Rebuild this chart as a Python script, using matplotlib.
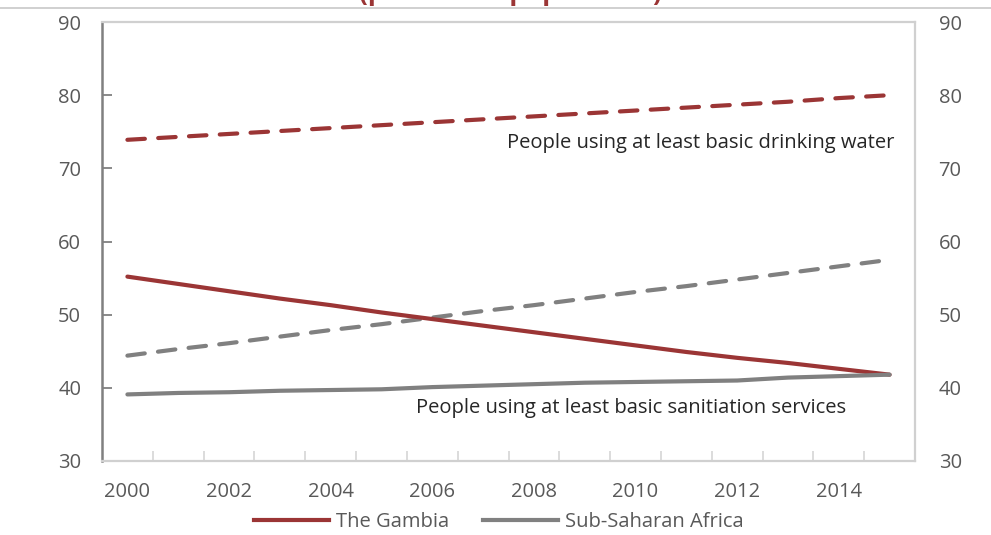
"""
Access to basic drinking water and sanitation, The Gambia vs Sub-Saharan Africa.
"""

import matplotlib.pyplot as plt
from matplotlib.lines import Line2D
import numpy as np

years = np.arange(2000, 2016)
year_labels = ["2000", "2002", "2004", "2006", "2008", "2010", "2012", "2014"]

gambia_water = [73.9, 74.3, 74.7, 75.1, 75.5, 75.9, 76.3, 76.7,
                77.1, 77.5, 77.9, 78.3, 78.7, 79.1, 79.6, 80.0]
ssa_water = [44.4, 45.3, 46.1, 47.0, 47.9, 48.7, 49.6, 50.5,
             51.3, 52.2, 53.1, 53.9, 54.8, 55.7, 56.6, 57.5]
gambia_sanitation = [55.2, 54.2, 53.2, 52.2, 51.3, 50.3, 49.4, 48.5,
                     47.6, 46.7, 45.8, 44.9, 44.1, 43.4, 42.6, 41.8]
ssa_sanitation = [39.1, 39.3, 39.4, 39.6, 39.7, 39.8, 40.1, 40.3,
                  40.5, 40.7, 40.8, 40.9, 41.0, 41.4, 41.6, 41.8]

RED = "#9b3535"
GREY = "#808080"
TEXT = "#595959"
FS = 14.5

plt.rcParams["font.family"] = ["Open Sans", "DejaVu Sans"]


def main() -> None:
    fig = plt.figure(figsize=(9.91, 5.35), dpi=100)
    ax = fig.add_axes([102 / 991, 74 / 535, 813 / 991, 439 / 535])

    lw = 3.0
    dash = (4.2, 3.2)
    ax.plot(years, gambia_water, color=RED, lw=lw, dashes=dash,
            dash_capstyle="round")
    ax.plot(years, ssa_water, color=GREY, lw=lw, dashes=dash,
            dash_capstyle="round")
    ax.plot(years, gambia_sanitation, color=RED, lw=lw,
            solid_capstyle="round")
    ax.plot(years, ssa_sanitation, color=GREY, lw=lw,
            solid_capstyle="round")

    ax.text(2015.1, 73.5, "People using at least basic drinking water",
            ha="right", va="center", fontsize=FS, color="#262626")
    ax.text(2014.15, 37.3, "People using at least basic sanitiation services",
            ha="right", va="center", fontsize=FS, color="#262626")

    ax.set_xlim(1999.5, 2015.5)
    ax.set_ylim(30, 90)
    ax.set_yticks(range(30, 91, 10))
    ax.set_xticks(np.arange(2000.5, 2015.5, 1))
    ax.set_xticklabels([])
    ax.set_xticks(np.arange(2000, 2015, 2), minor=True)
    ax.set_xticklabels(year_labels, minor=True)
    ax.tick_params(axis="x", which="major", direction="in", length=7,
                   color="#d9d9d9", width=1.3)
    ax.tick_params(axis="x", which="minor", length=0, pad=15,
                   labelsize=FS, labelcolor=TEXT)
    ax.tick_params(axis="y", direction="in", length=7, color=GREY, width=1.3,
                   labelsize=FS, labelcolor=TEXT, pad=15)

    ax.spines["left"].set_color(GREY)
    ax.spines["left"].set_linewidth(1.8)
    for side in ("top", "right", "bottom"):
        ax.spines[side].set_color("#d0d0d0")
        ax.spines[side].set_linewidth(1.6)

    right = ax.twinx()
    right.set_ylim(30, 90)
    right.set_yticks(range(30, 91, 10))
    right.tick_params(axis="y", length=0, labelsize=FS, labelcolor=TEXT,
                      pad=17)
    for spine in right.spines.values():
        spine.set_visible(False)

    handles = [Line2D([], [], color=RED, lw=lw),
               Line2D([], [], color=GREY, lw=lw)]
    fig.legend(handles, ["The Gambia", "Sub-Saharan Africa"],
               loc="center", bbox_to_anchor=(499 / 991, 1 - 522 / 535),
               ncol=2, frameon=False, fontsize=FS, labelcolor=TEXT,
               handlelength=3.7, handletextpad=0.35, columnspacing=1.7)

    fig.text(510 / 991, 1 - 0.5 / 535, "(percent of population)",
             ha="center", va="baseline", fontsize=19, fontweight="bold",
             color=RED)
    fig.add_artist(Line2D([0, 1], [1 - 8 / 535, 1 - 8 / 535],
                          color="#c8c8c8", lw=1.2,
                          transform=fig.transFigure))

    fig.savefig("out.png", dpi=100)
    plt.close(fig)


if __name__ == "__main__":
    main()
